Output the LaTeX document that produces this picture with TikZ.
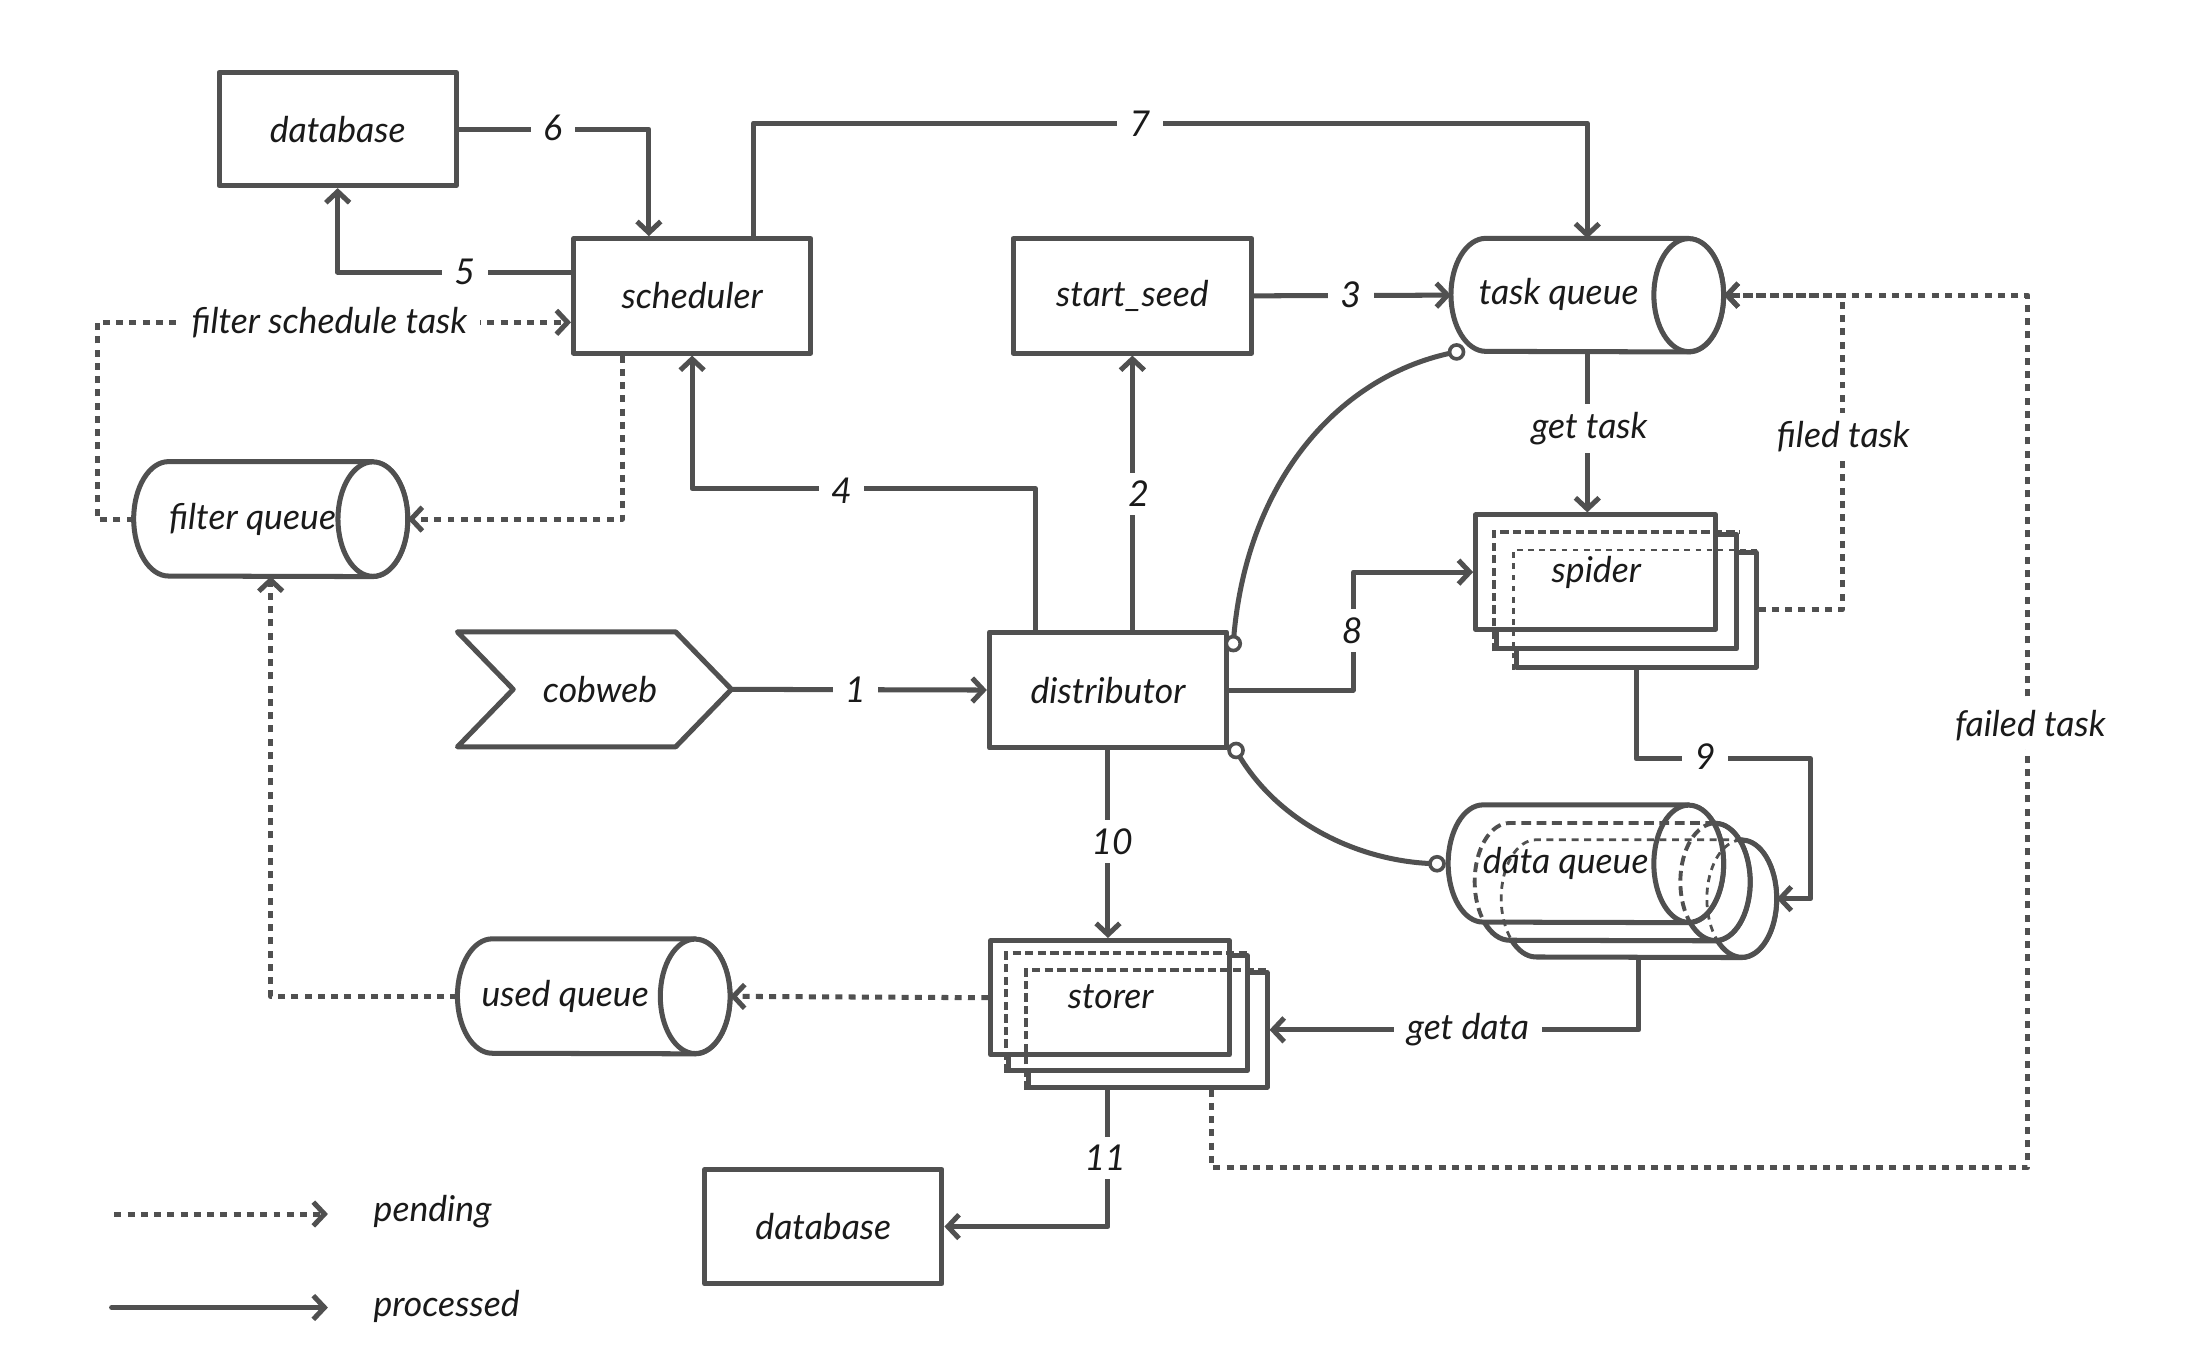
\documentclass[tikz,border=0pt]{standalone}
\usepackage{fontspec}
\setmainfont{Lato}
\usetikzlibrary{arrows.meta,calc}
\definecolor{ink}{HTML}{505050}
\definecolor{txt}{HTML}{1A1A1A}
\newcommand\fsz{\fontsize{25.5}{30}\selectfont}
\tikzset{
 ln/.style={draw=ink, line width=3.6pt, line cap=round, line join=round},
 arr/.style={ln, -{Straight Barb[length=8pt,width=17pt]}},
 pend/.style={arr, dash pattern=on 5pt off 4.5pt, line cap=butt},
 box/.style={ln, fill=white, minimum width=170pt, minimum height=82pt, inner sep=0pt, text=txt, font=\fsz\itshape},
 txtn/.style={text=txt, font=\fsz\itshape, inner sep=1pt},
 lbl/.style={fill=white, inner xsep=9pt, inner ysep=6pt, text=txt, font=\fsz\itshape},
 inner/.style={draw=ink, line width=2.8pt, dash pattern=on 6pt off 3pt},
}
% cylinder outline: style, node name, height
\newcommand\cylout[3]{%
 \draw[#1] ([xshift=-25pt]#2.north east) -- ([xshift=25pt]#2.north west)
   arc[start angle=90,end angle=270,x radius=25pt,y radius=#3pt/2]
   -- ([xshift=-25pt]#2.south east)
   arc[start angle=-90,end angle=90,x radius=25pt,y radius=#3pt/2] -- cycle;
 \draw[#1] ([xshift=-25pt]#2.east) ellipse[x radius=25pt, y radius=#3pt/2];}
% cylinder node: name, cx, cy, w, h
\newcommand\cylnode[5]{%
 \node[minimum width=#4pt, minimum height=#5pt, inner sep=0pt] (#1) at (#2,#3) {};
 \cylout{ln,fill=white}{#1}{#5}}
\begin{document}
\begin{tikzpicture}[x=1pt,y=-1pt]
\fill[white] (0,0) rectangle (1568,983);
\useasboundingbox (0,0) rectangle (1568,983);

% ---- boxes
\node[box] (db1) at (242,92.5) [minimum height=81pt] {database};
\node[box] (sched) at (496,212) {scheduler};
\node[box, minimum width=171pt] (seed) at (811.5,212) {start\_seed};
\node[box, minimum height=83pt] (dist) at (794,494.5) {distributor};
\node[box] (db2) at (590,879) {database};

% ---- cobweb chevron
\node[minimum width=196pt, minimum height=82pt, inner sep=0pt] (cob) at (426,494) {};
\draw[ln, fill=white] (cob.north west) -- ([xshift=-40pt]cob.north east) -- (cob.east)
  -- ([xshift=-40pt]cob.south east) -- (cob.south west) -- ([xshift=40pt]cob.west) -- cycle;
\node[txtn] (cobt) at (430,494) {cobweb};

% ---- cylinders
\cylnode{tq}{1137.5}{211.5}{195}{81}
\node[txtn] (tqt) at (1117,211) {task queue};
\cylnode{fq}{194}{372}{196}{82}
\node[txtn] (fqt) at (181,372) {filter queue};
\cylnode{uq}{425.5}{714}{195}{82}
\node[txtn] (uqt) at (405,714) {used queue};

% data queue stack
\cylnode{dq3}{1174.5}{644}{197}{84}
\cylnode{dq2}{1155.5}{632}{197}{84}
\cylnode{dq}{1136.5}{619}{197}{84}
\cylout{draw=ink, line width=2.8pt, dash pattern=on 7pt off 4pt}{dq2}{84}
\cylout{draw=ink, line width=2pt, dash pattern=on 5pt off 4pt}{dq3}{84}
\node[txtn] (dqt) at (1122,619) {data queue};

% spider stack
\node[box, minimum width=172pt] (sp3) at (1172.5,437) {};
\node[box, minimum width=172pt] (sp2) at (1158.5,424) {};
\node[box, minimum width=172pt] (sp) at (1143.5,410) {};
\draw[inner] (sp2.south west) |- (sp2.north east);
\draw[inner, line width=2pt, dash pattern=on 4pt off 4pt] (sp3.south west) |- (sp3.north east);
\node[txtn] (spt) at (1144,410) {spider};

% storer stack
\node[box, minimum width=171pt] (st3) at (822.5,738) {};
\node[box, minimum width=171pt] (st2) at (808.5,726) {};
\node[box, minimum width=171pt] (st) at (795.5,715) {};
\draw[inner] (st2.south west) |- (st2.north east);
\draw[inner] (st3.south west) |- (st3.north east);
\node[txtn] (stt) at (796,714) {storer};

% ---- processed connectors
\draw[arr] (cob.east) -- (dist.west);
\draw[arr] (seed.south |- dist.north) -- (seed.south);
\draw[arr] (seed.east) -- (tq.west);
\draw[arr] ([xshift=-52pt]dist.north) -- ++(0,-101) -| (sched.south);
\draw[arr] ([yshift=17pt]sched.west) -| (db1.south);
\draw[arr] (db1.east) -| ([xshift=-31pt]sched.north);
\draw[arr] ([xshift=44pt]sched.north) -- ++(0,-81) -| (tq.north);
\draw[arr] (dist.east) -- ++(89,0) |- (sp.west);
\draw[arr] (sp3.south) -- ++(0,64) -- ++(125,0) |- (dq3.east);
\draw[arr] (dist.south) -- (dist.south |- st.north);
\draw[arr] (dist.south |- st3.south) |- (db2.east);
\draw[arr] (tq.south) -- (tq.south |- sp.north);
\draw[arr] (dq3.south) |- (st3.east);

% ---- pending connectors
\draw[pend] (sp3.east) -| ([xshift=85pt]tq.east) -- (tq.east);
\draw[pend] ([xshift=46pt]st3.south) -- ++(0,56) -| ([xshift=218pt]tq.east) -- (tq.east);
\draw[pend] (fq.west) -- ++(-26,0) |- ([yshift=-19pt]sched.west);
\draw[pend] ([xshift=-50pt]sched.south) |- (fq.east);
\draw[pend] (uq.west) -| (fq.south);
\draw[pend] (st.west) -- (uq.east);

% ---- curved links with circle ends
\coordinate (c1a) at ([xshift=3pt,yshift=-10pt]dist.north east);
\coordinate (c1b) at ([xshift=4pt]tq.south west);
\draw[ln] (c1a) .. controls (892,345) and (960,268) .. (c1b);
\coordinate (c2a) at ([xshift=5pt]dist.south east);
\coordinate (c2b) at ([xshift=-8pt]dq.west);
\draw[ln] (c2a) .. controls (915,590) and (975,618) .. (c2b);
\foreach \c in {c1a,c1b,c2a,c2b} \draw[draw=ink, line width=2.6pt, fill=white] (\c) circle[radius=5pt];

% ---- labels
\node[lbl] (l1) at (613,494) {1};
\node[lbl] (l2) at (816,354) {2};
\node[lbl] (l3) at (968,211) {3};
\node[lbl] (l4) at (603,352) {4};
\node[lbl] (l5) at (333,195) {5};
\node[lbl] (l6) at (396,92) {6};
\node[lbl] (l7) at (817,89) {7};
\node[lbl] (l8) at (969,452) {8};
\node[lbl] (l9) at (1222,542) {9};
\node[lbl] (l10) at (797,603) {10};
\node[lbl] (l11) at (792,830) {11};
\node[lbl] (lgt) at (1139,307) {get task};
\node[lbl] (lgd) at (1052,738) {get data};
\node[lbl] (lfi) at (1321,313) {filed task};
\node[lbl] (lfa) at (1455,520) {failed task};
\node[lbl] (lfs) at (236,231) {filter schedule task};

% ---- legend
\coordinate (pa) at (82,870); \coordinate (pb) at (235,870);
\draw[pend] (pa) -- (pb);
\node[txtn] (pt) at (310,868) {pending};
\coordinate (qa) at (80,937); \coordinate (qb) at (235,937);
\draw[arr] (qa) -- (qb);
\node[txtn] (qt) at (320,936) {processed};
\end{tikzpicture}
\end{document}
